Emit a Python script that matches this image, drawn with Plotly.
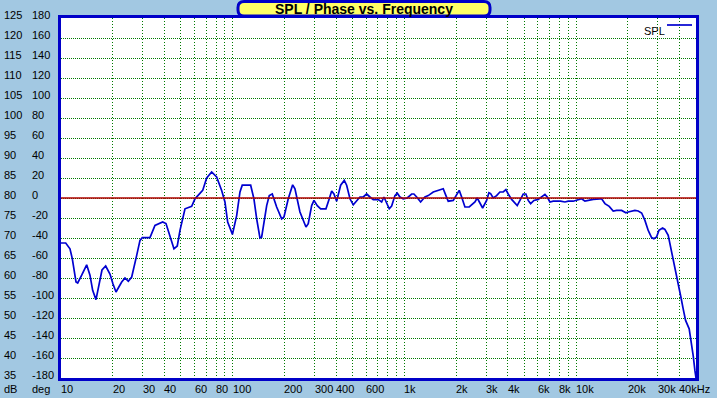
import math
import plotly.graph_objects as go

# ---------------- data ----------------
freq_hz = [10, 10.65, 11.28, 11.64, 12.23, 12.51, 13.2, 14.11, 14.75, 15.29, 15.99, 16.65, 17.33, 18.21,
           19.29, 20.09, 20.91, 22.57, 23.59, 24.66, 25.81, 27.6, 28.85, 29.76, 32.98, 35.27, 39.11, 40.88,
           43.14, 45.5, 47.56, 49.33, 52.76, 57.7, 60.31, 66.89, 70.57, 75.45, 80.67, 86.27, 90.17, 93.51,
           99.7, 105.5, 110.3, 113.7, 127.3, 133.0, 138.0, 144.2, 147.5, 157.8, 163.4, 170.1, 180.4, 192.9,
           199.0, 210.8, 223.6, 230.6, 246.6, 267.3, 275.6, 288.5, 297.6, 311.1, 325.5, 349.5, 365.3, 377.3,
           389.0, 403.3, 425.6, 446.7, 461.3, 482.2, 504.0, 527.5, 551.4, 576.3, 603.2, 630.5, 659.1, 704.7,
           737.6, 760.7, 781.3, 816.8, 843.4, 881.6, 909.2, 942.8, 985.4, 1040, 1103, 1137, 1180, 1244,
           1318, 1378, 1474, 1576, 1685, 1747, 1802, 1927, 2017, 2088, 2157, 2254, 2388, 2578, 2658, 2858,
           3015, 3110, 3181, 3294, 3448, 3604, 3767, 3906, 4028, 4216, 4545, 4713, 4926, 5107, 5267, 5441,
           5687, 6024, 6390, 6591, 6797, 7047, 7366, 7772, 8134, 8616, 9008, 9632, 10160, 10780, 11270,
           11780, 12600, 13780, 14100, 14740, 15610, 16470, 17240, 18440, 19530, 20140, 20880, 22030,
           23030, 24120, 25200, 26340, 27560, 28420, 29470, 30400, 31940, 32940, 34440, 35240, 36190,
           37170, 38540, 39900, 40820, 42100, 43480, 45630, 47130, 48150, 49260, 50000]
spl_db = [68.75, 68.75, 67.3, 64.8, 59.0, 58.75, 60.7, 63.3, 60.7, 56.9, 54.6, 58.5, 62.0, 63.0,
          61.0, 58.5, 56.5, 59.0, 60.0, 59.2, 60.25, 65.65, 69.4, 70.1, 70.1, 73.15, 74.0, 73.6,
          70.25, 67.3, 68.0, 71.9, 77.3, 77.9, 79.8, 81.9, 85.0, 86.5, 85.25, 81.9, 79.0, 74.0,
          70.9, 75.6, 81.5, 83.2, 83.2, 79.8, 74.8, 70.0, 70.2, 78.1, 80.6, 81.0, 77.75, 74.8,
          75.25, 79.8, 83.3, 82.3, 76.5, 72.75, 73.6, 78.1, 79.4, 78.1, 77.3, 77.3, 79.8, 81.75,
          81.0, 79.2, 83.2, 84.4, 83.2, 79.8, 78.3, 79.4, 80.25, 80.25, 81.0, 80.25, 79.6, 79.6,
          79.0, 80.25, 79.0, 77.3, 78.0, 80.6, 81.2, 80.25, 79.8, 80.0, 81.0, 81.0, 80.25, 79.0,
          80.25, 80.6, 81.5, 81.9, 82.3, 80.6, 79.2, 79.4, 81.0, 81.9, 80.25, 77.75, 77.75, 79.0, 80.0, 77.5,
          79.4, 81.3, 81.1, 80.0, 80.6, 81.5, 81.5, 82.1, 81.0, 79.65, 78.1, 79.4, 81.0, 81.0, 79.4, 78.6,
          79.4, 79.65, 80.6, 80.9, 80.25, 79.0, 79.2, 79.3, 79.2, 79.0, 79.2, 79.2, 79.4, 79.8, 79.2,
          79.4, 79.65, 79.8, 79.8, 78.6, 77.9, 76.75, 76.9, 76.9, 76.3, 76.5, 76.6, 76.9,
          76.75, 76.25, 74.4, 71.9, 70.1, 69.8, 70.25, 71.9, 72.5, 72.15, 70.65, 68.6, 66.8,
          63.6, 60.7, 58.15, 55.25, 52.3, 49.4, 47.3, 43.6, 40.6, 36.9, 35.0]

db_ticks = [125, 120, 115, 110, 105, 100, 95, 90, 85, 80, 75, 70, 65, 60, 55, 50, 45, 40, 35]
deg_ticks = [180, 160, 140, 120, 100, 80, 60, 40, 20, 0, -20, -40, -60, -80, -100, -120, -140, -160, -180]
grid_freqs = [m * 10 ** e for e in range(1, 5) for m in range(1, 10) if m * 10 ** e <= 40000]
freq_label_vals = [10, 20, 30, 40, 60, 80, 100, 200, 300, 400, 600, 1000, 2000, 3000, 4000,
                   6000, 8000, 10000, 20000, 30000, 40000]
freq_label_text = ["10", "20", "30", "40", "60", "80", "100", "200", "300", "400", "600", "1k", "2k",
                   "3k", "4k", "6k", "8k", "10k", "20k", "30k", "40kHz"]
phase_ref_freq = [10, 50000]
phase_ref_deg = [0, 0]

# ---------------- layout constants ----------------
W, H = 717, 398
ML, MR, MT, MB = 61, 21, 18, 20
PW, PH = W - ML - MR, H - MT - MB
BG = "#A2C8E2"
FRAME = "#0000C8"
GRID = "#007A00"
FONT = "Liberation Sans"


def px_x(px):
    return (px - ML) / PW


def px_y(py):
    return (H - MB - py) / PH


fig = go.Figure()

fig.add_trace(go.Scatter(x=phase_ref_freq, y=phase_ref_deg, yaxis="y2", mode="lines",
                         line=dict(color="#B00000", width=1.5), hoverinfo="skip", showlegend=False))
fig.add_trace(go.Scatter(x=freq_hz, y=spl_db, mode="lines", name="SPL",
                         line=dict(color="#0000D0", width=1.7), showlegend=False))

annotations = []
for v, t in zip(freq_label_vals, freq_label_text):
    annotations.append(dict(x=math.log10(v), y=0, xref="x", yref="paper", text=t, showarrow=False,
                            xanchor="left", yanchor="middle", yshift=-11, xshift=-1, borderpad=0,
                            font=dict(family=FONT, size=11, color="black")))
for v in db_ticks:
    annotations.append(dict(x=px_x(3), y=v, xref="paper", yref="y", text=str(v), showarrow=False,
                            xanchor="left", yanchor="middle", yshift=3, borderpad=0,
                            font=dict(family=FONT, size=11, color="black")))
for v in deg_ticks:
    annotations.append(dict(x=px_x(30.5), y=v, xref="paper", yref="y2", text=str(v), showarrow=False,
                            xanchor="left", yanchor="middle", yshift=3, borderpad=0,
                            font=dict(family=FONT, size=11, color="black")))
for t, xp in (("dB", 3), ("deg", 31)):
    annotations.append(dict(x=px_x(xp), y=0, xref="paper", yref="paper", text=t, showarrow=False,
                            xanchor="left", yanchor="middle", yshift=-11, borderpad=0,
                            font=dict(family=FONT, size=11, color="black")))
# title
annotations.append(dict(x=px_x(364), y=px_y(8.5), xref="paper", yref="paper",
                        text="<b>SPL / Phase vs. Frequency</b>", showarrow=False,
                        xanchor="center", yanchor="middle", borderpad=0,
                        font=dict(family=FONT, size=14, color="black")))
# legend text
annotations.append(dict(x=px_x(643), y=px_y(31), xref="paper", yref="paper", text="SPL",
                        showarrow=False, xanchor="left", yanchor="middle", borderpad=0,
                        font=dict(family=FONT, size=11, color="black")))

# title box (rounded)
x0, x1 = px_x(238), px_x(490)
yb, yt = px_y(16), px_y(1.5)
rx, ry = 6 / PW, 6 / PH
path = (f"M {x0+rx},{yt} L {x1-rx},{yt} Q {x1},{yt} {x1},{yt-ry} L {x1},{yb+ry} "
        f"Q {x1},{yb} {x1-rx},{yb} L {x0+rx},{yb} Q {x0},{yb} {x0},{yb+ry} "
        f"L {x0},{yt-ry} Q {x0},{yt} {x0+rx},{yt} Z")
shapes = [
    dict(type="path", path=path, xref="paper", yref="paper", fillcolor="#FFFF66",
         line=dict(color=FRAME, width=3), layer="above"),
    dict(type="line", xref="paper", yref="paper", x0=px_x(667), x1=px_x(692),
         y0=px_y(25), y1=px_y(25), line=dict(color="#0000D0", width=1.7)),
]

fig.update_layout(
    width=W, height=H,
    margin=dict(l=ML, r=MR, t=MT, b=MB, pad=0),
    paper_bgcolor=BG, plot_bgcolor="white",
    showlegend=False,
    annotations=annotations, shapes=shapes,
    xaxis=dict(type="log", range=[1, math.log10(50000)], tickmode="array", tickvals=grid_freqs,
               showticklabels=False, ticks="", showgrid=True, gridcolor=GRID, gridwidth=1,
               griddash="1px,2px", zeroline=False, showline=True, linecolor=FRAME, linewidth=3,
               mirror=True, automargin=False, fixedrange=True),
    yaxis=dict(range=[35, 125], tickmode="array", tickvals=db_ticks, showticklabels=False, ticks="",
               showgrid=True, gridcolor=GRID, gridwidth=1, griddash="1px,1px", zeroline=False,
               showline=True, linecolor=FRAME, linewidth=3, mirror=True, automargin=False,
               fixedrange=True),
    yaxis2=dict(range=[-180, 180], overlaying="y", showgrid=False, showticklabels=False, ticks="",
                zeroline=False, showline=False, automargin=False, fixedrange=True),
)

fig.write_html("out.html", config={"displayModeBar": False},
               post_script="document.body.style.margin='0px';document.body.style.padding='0px';"
                           "document.documentElement.style.overflow='hidden';")
